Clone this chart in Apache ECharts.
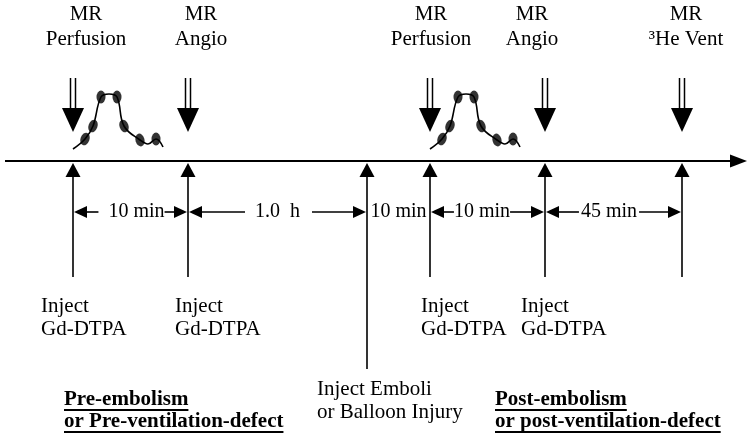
<!DOCTYPE html>
<html>
<head>
<meta charset="utf-8">
<script src="https://cdn.jsdelivr.net/npm/echarts@6/dist/echarts.min.js"></script>
<style>
html, body { margin: 0; padding: 0; background: #fff; }
#chart { width: 750px; height: 441px; }
</style>
</head>
<body>
<div id="chart"></div>
<script>
// diagram positions along the time line (left to right)
var eventX = [73, 188, 367, 430, 545, 682];
var eventLineEnd = [277, 277, 369, 277, 277, 277];
var scanX = [73, 188, 430, 545, 682];
var scanLabel = [["MR", "Perfusion"], ["MR", "Angio"], ["MR", "Perfusion"], ["MR", "Angio"], ["MR", "\u00b3He Vent"]];
var injectLabel = [["Inject", "Gd-DTPA"], ["Inject", "Gd-DTPA"], ["Inject Emboli", "or Balloon Injury"], ["Inject", "Gd-DTPA"], ["Inject", "Gd-DTPA"]];
var durLabel = ["10 min", "1.0\u00a0 h", "10 min", "10 min", "45 min"];
var durFrom = [73, 188, 367, 430, 545];
var durTo = [188, 367, 430, 545, 682];
var durArrows = [true, true, false, true, true];
// contrast bolus curve (offset from the perfusion scan, height above the line)
var bolusDx = [0, 12, 20, 28, 36, 44, 51, 67, 75, 83, 90];
var bolusH = [12, 22, 35, 64, 67, 64, 35, 21, 17, 22, 14];
var bolusDot = [1, 2, 3, 5, 6, 7, 9];
var phaseLabel = [["Pre-embolism", "or Pre-ventilation-defect"], ["Post-embolism", "or post-ventilation-defect"]];

// layout
var lineY = 161;
var scanTop = 78, scanTip = 132;
var durY = 212;
var scanLabelX = [86, 201, 431, 532, 686];
var injectLabelX = [41, 175, 317, 421, 521];
var injectLabelY = [306, 306, 389, 306, 306];
var phaseX = [64, 495], phaseY = 400;
var durShift = [6, 0, 0, -5.5, -4.5];
var durGap = [[10, 0], [10, 12], [0, 0], [0, 0], [2, 2]];
var dotTilt = [-20, -20, 0, 0, 20, 15, 0];

var BLACK = "#000";
var SERIF = "'Times New Roman', 'Liberation Serif', serif";

function fontOf(size, weight) {
  return (weight || "normal") + " " + size + "px " + SERIF;
}
var measureCtx = document.createElement("canvas").getContext("2d");
function textWidth(s, size, weight) {
  measureCtx.font = fontOf(size, weight);
  return measureCtx.measureText(s).width;
}
function textEl(s, x, y, align, size, weight) {
  return {
    type: "text",
    style: { text: s, x: x, y: y, align: align, verticalAlign: "middle", font: fontOf(size, weight), fill: BLACK }
  };
}

// all text items
var texts = [];
scanX.forEach(function (x, i) {
  scanLabel[i].forEach(function (s, j) {
    texts.push({ x: scanLabelX[i], y: 14 + j * 25, text: s, align: "center", size: 21 });
  });
});
injectLabel.forEach(function (lines, i) {
  lines.forEach(function (s, j) {
    texts.push({ x: injectLabelX[i], y: injectLabelY[i] + j * 23, text: s, align: "left", size: 21 });
  });
});
phaseLabel.forEach(function (lines, i) {
  lines.forEach(function (s, j) {
    texts.push({ x: phaseX[i], y: phaseY + j * 22, text: s, align: "left", size: 21, weight: "bold", underline: true });
  });
});

function bolusData(x0) {
  return bolusDx.map(function (dx, i) { return [x0 + dx, lineY - bolusH[i]]; });
}
function bolusDots(x0) {
  return bolusDot.map(function (k, i) {
    return { value: [x0 + bolusDx[k], lineY - bolusH[k]], symbolRotate: dotTilt[i] };
  });
}
var perfusionX = scanX.filter(function (x, i) { return scanLabel[i][1] === "Perfusion"; });

var series = [];

// time axis arrow
series.push({
  type: "custom", silent: true, clip: false,
  data: [[5, 747, lineY]],
  renderItem: function (params, api) {
    var a = api.coord([api.value(0), api.value(2)]);
    var b = api.coord([api.value(1), api.value(2)]);
    return { type: "group", children: [
      { type: "line", shape: { x1: a[0], y1: a[1], x2: b[0] - 12, y2: b[1] }, style: { stroke: BLACK, lineWidth: 2 } },
      { type: "polygon", shape: { points: [[b[0] - 17, b[1] - 6.5], [b[0], b[1]], [b[0] - 17, b[1] + 6.5]] }, style: { fill: BLACK } }
    ] };
  }
});

// injection arrows (pointing up to the line)
series.push({
  type: "custom", silent: true, clip: false,
  data: eventX.map(function (x, i) { return [x, lineY, eventLineEnd[i]]; }),
  renderItem: function (params, api) {
    var t = api.coord([api.value(0), api.value(1)]);
    var b = api.coord([api.value(0), api.value(2)]);
    return { type: "group", children: [
      { type: "polygon", shape: { points: [[t[0], t[1] + 2], [t[0] - 7.5, t[1] + 16], [t[0] + 7.5, t[1] + 16]] }, style: { fill: BLACK } },
      { type: "line", shape: { x1: t[0], y1: t[1] + 14, x2: b[0], y2: b[1] }, style: { stroke: BLACK, lineWidth: 1.6 } }
    ] };
  }
});

// MR scan arrows (double shaft, pointing down)
series.push({
  type: "custom", silent: true, clip: false,
  data: scanX.map(function (x) { return [x, scanTop, scanTip]; }),
  renderItem: function (params, api) {
    var t = api.coord([api.value(0), api.value(1)]);
    var p = api.coord([api.value(0), api.value(2)]);
    var hb = p[1] - 24;
    return { type: "group", children: [
      { type: "line", shape: { x1: t[0] - 2.5, y1: t[1], x2: t[0] - 2.5, y2: hb }, style: { stroke: BLACK, lineWidth: 1.5 } },
      { type: "line", shape: { x1: t[0] + 2.5, y1: t[1], x2: t[0] + 2.5, y2: hb }, style: { stroke: BLACK, lineWidth: 1.5 } },
      { type: "polygon", shape: { points: [[p[0] - 11, hb], [p[0] + 11, hb], [p[0], p[1]]] }, style: { fill: BLACK } }
    ] };
  }
});

// interval arrows with labels
series.push({
  type: "custom", silent: true, clip: false,
  data: durFrom.map(function (x, i) { return [x, durTo[i], durY]; }),
  renderItem: function (params, api) {
    var i = params.dataIndex;
    var a = api.coord([api.value(0), api.value(2)]);
    var b = api.coord([api.value(1), api.value(2)]);
    var cx = (a[0] + b[0]) / 2 + durShift[i];
    var w = textWidth(durLabel[i], 20);
    var children = [textEl(durLabel[i], cx, a[1], "center", 20)];
    if (durArrows[i]) {
      var l = cx - w / 2 - durGap[i][0], r = cx + w / 2 + durGap[i][1];
      children.push(
        { type: "line", shape: { x1: a[0] + 10, y1: a[1], x2: l, y2: a[1] }, style: { stroke: BLACK, lineWidth: 1.6 } },
        { type: "polygon", shape: { points: [[a[0] + 1, a[1]], [a[0] + 14, a[1] - 6], [a[0] + 14, a[1] + 6]] }, style: { fill: BLACK } },
        { type: "line", shape: { x1: r, y1: b[1], x2: b[0] - 10, y2: b[1] }, style: { stroke: BLACK, lineWidth: 1.6 } },
        { type: "polygon", shape: { points: [[b[0] - 1, b[1]], [b[0] - 14, b[1] - 6], [b[0] - 14, b[1] + 6]] }, style: { fill: BLACK } }
      );
    }
    return { type: "group", children: children };
  }
});

// bolus curves and sample dots
perfusionX.forEach(function (x0) {
  series.push({
    type: "line", silent: true, smooth: 0.4, symbol: "none",
    lineStyle: { color: BLACK, width: 1.6 },
    data: bolusData(x0)
  });
  series.push({
    type: "scatter", silent: true, symbol: "circle", symbolSize: [9, 13],
    itemStyle: { color: BLACK },
    data: bolusDots(x0)
  });
});

// labels
series.push({
  type: "custom", silent: true, clip: false,
  data: texts.map(function (t) { return [t.x, t.y]; }),
  renderItem: function (params, api) {
    var t = texts[params.dataIndex];
    var p = api.coord([api.value(0), api.value(1)]);
    var children = [textEl(t.text, p[0], p[1], t.align, t.size, t.weight)];
    if (t.underline) {
      var w = textWidth(t.text, t.size, t.weight);
      var x1 = t.align === "center" ? p[0] - w / 2 : p[0];
      children.push({ type: "line", shape: { x1: x1, y1: p[1] + 10, x2: x1 + w, y2: p[1] + 10 }, style: { stroke: BLACK, lineWidth: 2 } });
    }
    return { type: "group", children: children };
  }
});

var chart = echarts.init(document.getElementById("chart"), null, { renderer: "canvas" });
chart.setOption({
  backgroundColor: "#fff",
  animation: false,
  grid: { left: 0, right: 0, top: 0, bottom: 0 },
  xAxis: { type: "value", min: 0, max: 750, show: false },
  yAxis: { type: "value", min: 0, max: 441, inverse: true, show: false },
  series: series
});
</script>
</body>
</html>
